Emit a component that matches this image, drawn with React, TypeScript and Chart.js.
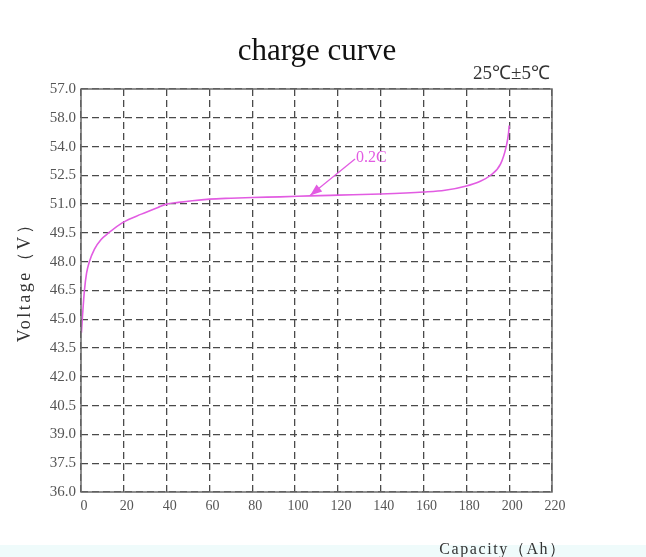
import React, { useEffect, useRef } from "react";
import { Chart, registerables } from "chart.js";

Chart.register(...registerables);

// ---- data ----
const capacity = [0.2, 0.6, 1.6, 2.6, 3.9, 6.3, 9.4, 12.9, 19.6, 28.2, 36, 40, 45.5, 52, 60, 70, 80, 93, 107, 120, 140, 160, 170, 180, 186, 191, 196, 198.6, 199.7, 200];
const voltage = [44.3, 45.0, 46.5, 47.4, 48.0, 48.66, 49.16, 49.5, 50.05, 50.48, 50.83, 51.0, 51.09, 51.18, 51.26, 51.31, 51.35, 51.38, 51.43, 51.47, 51.53, 51.63, 51.72, 51.95, 52.17, 52.48, 53.1, 54.0, 54.7, 55.1];

const xTickValues = [0, 20, 40, 60, 80, 100, 120, 140, 160, 180, 200, 220];
const yTickValues = [36, 37.5, 39, 40.5, 42, 43.5, 45, 46.5, 48, 49.5, 51, 52.5, 54, 55.5, 57];
const yTickLabels = ["36.0", "37.5", "39.0", "40.5", "42.0", "43.5", "45.0", "46.5", "48.0", "49.5", "51.0", "52.5", "54.0", "58.0", "57.0"];

const chartTitle = "charge curve";
const tempNote = "25℃±5℃";
const yAxisTitle = "Voltage（V）";
const xAxisTitle = "Capacity（Ah）";
const seriesLabel = "0.2C";
const arrowFrom = { x: 128, y: 53.35 };
const arrowTo = { x: 107, y: 51.45 };
const labelAt = { x: 128.5, y: 53.4 };

const MAGENTA = "#e25ce2";

const overlay = {
  id: "overlay",
  beforeDraw(chart: any) {
    const { ctx, width } = chart;
    ctx.save();
    ctx.fillStyle = "#effbfb";
    ctx.fillRect(0, 545, width, 20);
    ctx.restore();
  },
  afterDraw(chart: any) {
    const { ctx, chartArea: a, scales } = chart;
    const xs = scales.x;
    const ys = scales.y;
    ctx.save();
    // frame
    ctx.setLineDash([]);
    ctx.strokeStyle = "#6a6a6a";
    ctx.lineWidth = 1.5;
    ctx.strokeRect(a.left, a.top, a.right - a.left, a.bottom - a.top);

    // title
    ctx.fillStyle = "#111";
    ctx.font = "31px 'Liberation Serif'";
    ctx.textAlign = "center";
    ctx.textBaseline = "alphabetic";
    ctx.fillText(chartTitle, 317, 60);

    // temperature note
    ctx.fillStyle = "#333";
    ctx.font = "19px 'Liberation Serif'";
    ctx.textAlign = "right";
    ctx.fillText(tempNote, 550, 79);

    // y axis title
    ctx.save();
    ctx.translate(25, 278);
    ctx.rotate(-Math.PI / 2);
    ctx.textAlign = "center";
    ctx.textBaseline = "middle";
    ctx.fillStyle = "#333";
    ctx.font = "18px 'Liberation Serif'";
    (ctx as any).letterSpacing = "2.5px";
    ctx.fillText(yAxisTitle, 0, 0);
    ctx.restore();

    // x axis title
    ctx.save();
    ctx.fillStyle = "#333";
    ctx.font = "16px 'Liberation Serif'";
    (ctx as any).letterSpacing = "1.6px";
    ctx.textAlign = "center";
    ctx.textBaseline = "middle";
    ctx.fillText(xAxisTitle, 503, 550);
    ctx.restore();

    // arrow annotation
    const x1 = xs.getPixelForValue(arrowFrom.x);
    const y1 = ys.getPixelForValue(arrowFrom.y);
    const x2 = xs.getPixelForValue(arrowTo.x);
    const y2 = ys.getPixelForValue(arrowTo.y);
    ctx.strokeStyle = MAGENTA;
    ctx.fillStyle = MAGENTA;
    ctx.lineWidth = 1.3;
    ctx.beginPath();
    ctx.moveTo(x1, y1);
    ctx.lineTo(x2, y2);
    ctx.stroke();
    const ang = Math.atan2(y2 - y1, x2 - x1);
    const L = 12, W = 4.5;
    ctx.beginPath();
    ctx.moveTo(x2, y2);
    ctx.lineTo(x2 - L * Math.cos(ang) + W * Math.sin(ang), y2 - L * Math.sin(ang) - W * Math.cos(ang));
    ctx.lineTo(x2 - L * Math.cos(ang) - W * Math.sin(ang), y2 - L * Math.sin(ang) + W * Math.cos(ang));
    ctx.closePath();
    ctx.fill();

    ctx.font = "16px 'Liberation Serif'";
    ctx.textAlign = "left";
    ctx.textBaseline = "middle";
    ctx.fillText(seriesLabel, xs.getPixelForValue(labelAt.x), ys.getPixelForValue(labelAt.y));
    ctx.restore();
  },
};

export default function App() {
  const ref = useRef<HTMLCanvasElement | null>(null);
  useEffect(() => {
    if (!ref.current) return;
    const chart = new Chart(ref.current, {
      type: "line",
      data: {
        datasets: [
          {
            label: seriesLabel,
            data: capacity.map((c, i) => ({ x: c, y: voltage[i] })),
            borderColor: MAGENTA,
            borderWidth: 1.6,
            pointRadius: 0,
            fill: false,
            cubicInterpolationMode: "monotone",
          },
        ],
      },
      options: {
        responsive: false,
        animation: false,
        devicePixelRatio: 1,
        layout: { padding: { top: 89, right: 94, left: 0, bottom: 0 } },
        plugins: { legend: { display: false }, tooltip: { enabled: false }, title: { display: false } },
        scales: {
          x: {
            type: "linear",
            min: 0,
            max: 220,
            afterBuildTicks: (s: any) => {
              s.ticks = xTickValues.map((v) => ({ value: v }));
            },
            afterFit: (s: any) => {
              s.height = 65;
            },
            ticks: {
              color: "#555",
              font: { family: "'Liberation Serif'", size: 14 },
              padding: 6,
              labelOffset: 3,
              maxRotation: 0,
              autoSkip: false,
              callback: (v: any) => String(v),
            },
            grid: { color: "#4a4a4a", lineWidth: 1.3, drawTicks: false },
            border: { display: false, dash: [7, 4] },
          },
          y: {
            type: "linear",
            min: 36,
            max: 57,
            afterBuildTicks: (s: any) => {
              s.ticks = yTickValues.map((v) => ({ value: v }));
            },
            afterFit: (s: any) => {
              s.width = 81;
            },
            ticks: {
              color: "#555",
              font: { family: "'Liberation Serif'", size: 15 },
              padding: 5,
              autoSkip: false,
              callback: (v: any) => {
                const i = yTickValues.findIndex((t) => Math.abs(t - Number(v)) < 1e-6);
                return i >= 0 ? yTickLabels[i] : "";
              },
            },
            grid: { color: "#4a4a4a", lineWidth: 1.3, drawTicks: false },
            border: { display: false, dash: [7, 4] },
          },
        },
      },
      plugins: [overlay],
    } as any);
    return () => chart.destroy();
  }, []);
  return (
    <div style={{ position: "fixed", left: 0, top: 0, width: 646, height: 557, background: "#fff" }}>
      <canvas ref={ref} width={646} height={557} style={{ width: 646, height: 557, display: "block" }} />
    </div>
  );
}
